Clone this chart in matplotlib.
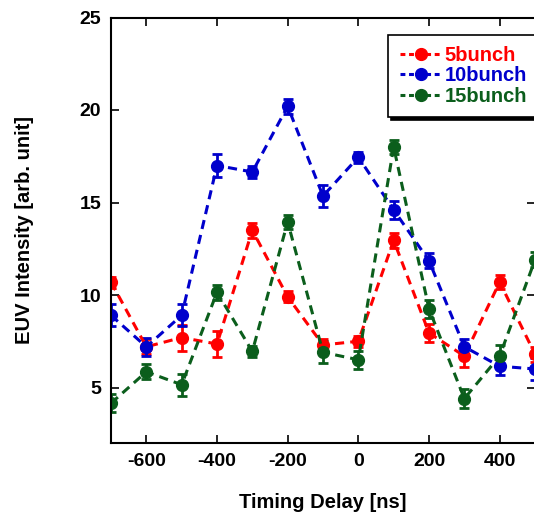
import matplotlib
matplotlib.use("Agg")
import matplotlib.pyplot as plt
from matplotlib.lines import Line2D

plt.rcParams['font.family'] = ['Liberation Sans', 'DejaVu Sans']
plt.rcParams['axes.unicode_minus'] = False

delay = [-700, -600, -500, -400, -300, -200, -100, 0, 100, 200, 300, 400, 500]

b5 = [10.7, 7.2, 7.7, 7.35, 13.5, 9.9, 7.3, 7.5, 12.95, 7.95, 6.7, 10.7, 6.8]
b5_err = [0.3, 0.4, 0.7, 0.7, 0.4, 0.3, 0.3, 0.3, 0.4, 0.5, 0.6, 0.4, 0.4]

b10 = [8.9, 7.2, 8.9, 17.0, 16.65, 20.2, 15.35, 17.45, 14.6, 11.85, 7.2, 6.15, 6.0]
b10_err = [0.6, 0.5, 0.6, 0.6, 0.3, 0.4, 0.6, 0.3, 0.5, 0.4, 0.4, 0.5, 0.6]

b15 = [4.15, 5.85, 5.15, 10.15, 6.95, 13.95, 6.9, 6.5, 18.0, 9.25, 4.4, 6.7, 11.9]
b15_err = [0.5, 0.4, 0.6, 0.4, 0.3, 0.4, 0.6, 0.5, 0.4, 0.5, 0.5, 0.6, 0.4]

labels = ['5bunch', '10bunch', '15bunch']
colors = ['#ff0000', '#0000cc', '#0b5e1c']

fig = plt.figure(figsize=(5.34, 5.17), dpi=100)
ax = fig.add_axes([111/534, 1 - 443/517, (535 - 111)/534, (443 - 17.5)/517])

handles = []
for y, e, lab, c in zip([b5, b10, b15], [b5_err, b10_err, b15_err], labels, colors):
    ax.errorbar(delay, y, yerr=e, color=c, ls='--', lw=2.2, marker='o', ms=8.5,
                capsize=3.5, capthick=2, elinewidth=2, dashes=(3, 2))
    handles.append(Line2D([], [], color=c, ls='--', lw=2.2, marker='o', ms=8.5,
                          dashes=(1.6, 1.2)))

ax.set_xlim(-700, 500)
ax.set_ylim(2, 25)
ax.set_xticks([-600, -400, -200, 0, 200, 400])
ax.set_yticks([5, 10, 15, 20, 25])
ax.tick_params(direction='in', top=True, right=True, length=6, width=1.2,
               labelsize=14, pad=7)
for t in ax.get_xticklabels() + ax.get_yticklabels():
    t.set_fontweight('bold')
for s in ax.spines.values():
    s.set_linewidth(1.5)

ax.set_xlabel('Timing Delay [ns]', fontsize=14.5, fontweight='bold', labelpad=17)
ax.set_ylabel('EUV Intensity [arb. unit]', fontsize=14.5, fontweight='bold', labelpad=33)

leg = ax.legend(handles, labels, loc='upper right', bbox_to_anchor=(1.008, 0.96),
                prop={'weight': 'bold', 'size': 14.5}, fancybox=False,
                shadow={'color': 'black', 'alpha': 1}, framealpha=1,
                edgecolor='black', handlelength=2.1, borderpad=0.55,
                labelspacing=0.08, handletextpad=0.15, borderaxespad=0)
leg.get_frame().set_linewidth(1.2)
for t, c in zip(leg.get_texts(), colors):
    t.set_color(c)

fig.savefig('out.png', dpi=100)
